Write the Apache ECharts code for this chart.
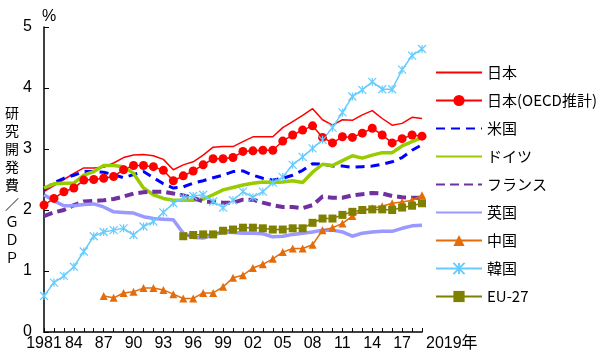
<!DOCTYPE html>
<html>
<head>
<meta charset="utf-8">
<script src="https://cdn.jsdelivr.net/npm/echarts@6/dist/echarts.min.js"></script>
<style>html,body{margin:0;padding:0;background:#fff}#c{width:600px;height:359px}</style>
</head>
<body>
<div id="c"></div>
<script>
var years = ['1981','1982','1983','1984','1985','1986','1987','1988','1989','1990','1991','1992','1993','1994','1995','1996','1997','1998','1999','2000','2001','2002','2003','2004','2005','2006','2007','2008','2009','2010','2011','2012','2013','2014','2015','2016','2017','2018','2019'];
var yTicks = [0, 1, 2, 3, 4, 5];
var seriesNames = ['日本','日本(OECD推計)','米国','ドイツ','フランス','英国','中国','韓国','EU-27'];

var japan = [2.30,2.40,2.50,2.60,2.69,2.69,2.70,2.77,2.86,2.90,2.91,2.89,2.83,2.66,2.74,2.79,2.90,3.03,3.04,3.04,3.12,3.20,3.20,3.20,3.35,3.45,3.55,3.66,3.48,3.39,3.48,3.47,3.56,3.63,3.50,3.39,3.42,3.52,3.50];
var japanOECD = [2.08,2.19,2.30,2.36,2.49,2.50,2.52,2.55,2.66,2.73,2.73,2.71,2.65,2.48,2.56,2.64,2.74,2.84,2.84,2.86,2.96,2.97,2.98,2.98,3.13,3.23,3.31,3.38,3.19,3.10,3.20,3.19,3.26,3.34,3.23,3.10,3.17,3.23,3.21];
var usa = [2.33,2.45,2.52,2.57,2.63,2.63,2.62,2.58,2.53,2.58,2.63,2.53,2.43,2.36,2.38,2.44,2.48,2.53,2.57,2.63,2.64,2.57,2.52,2.49,2.52,2.57,2.65,2.76,2.75,2.72,2.72,2.70,2.71,2.72,2.75,2.79,2.86,2.98,3.07];
var germany = [2.36,2.43,2.44,2.44,2.57,2.63,2.73,2.73,2.71,2.60,2.36,2.25,2.19,2.16,2.16,2.16,2.18,2.25,2.33,2.37,2.41,2.44,2.46,2.45,2.46,2.48,2.45,2.62,2.75,2.73,2.81,2.89,2.85,2.90,2.94,2.94,3.05,3.12,3.19];
var france = [1.90,1.96,2.00,2.08,2.14,2.15,2.16,2.18,2.22,2.27,2.29,2.30,2.30,2.27,2.24,2.20,2.14,2.13,2.12,2.12,2.17,2.17,2.12,2.08,2.05,2.05,2.03,2.08,2.22,2.20,2.20,2.24,2.26,2.28,2.27,2.23,2.21,2.20,2.20];
var uk = [2.25,2.15,2.07,2.07,2.09,2.10,2.05,1.97,1.96,1.95,1.89,1.86,1.85,1.84,1.62,1.55,1.54,1.59,1.64,1.63,1.62,1.62,1.61,1.56,1.57,1.60,1.62,1.64,1.67,1.67,1.64,1.57,1.62,1.64,1.65,1.65,1.70,1.74,1.75];
var china = [null,null,null,null,null,null,0.59,0.56,0.64,0.66,0.72,0.72,0.69,0.62,0.55,0.55,0.64,0.64,0.74,0.89,0.93,1.05,1.11,1.20,1.31,1.37,1.37,1.43,1.67,1.71,1.78,1.90,2.00,2.03,2.06,2.11,2.13,2.16,2.24];
var korea = [0.59,0.81,0.92,1.07,1.32,1.57,1.64,1.67,1.70,1.59,1.73,1.81,1.96,2.11,2.20,2.23,2.25,2.14,2.04,2.16,2.30,2.21,2.30,2.45,2.54,2.74,2.87,3.01,3.15,3.35,3.60,3.86,3.97,4.10,3.98,3.98,4.30,4.53,4.64];
var eu27 = [null,null,null,null,null,null,null,null,null,null,null,null,null,null,1.57,1.59,1.60,1.60,1.66,1.68,1.71,1.71,1.70,1.68,1.68,1.70,1.70,1.79,1.86,1.86,1.92,1.97,2.00,2.01,2.01,2.00,2.04,2.07,2.11];

var numFont = '"Liberation Sans Narrow", "Liberation Sans", "Noto Sans CJK JP", sans-serif';
var jpFont = '"Noto Sans CJK JP", "Liberation Sans", sans-serif';
var starPath = 'path://M0,0L10,10M10,0L0,10M5,0L5,10';

function mk(name, data, color, opt) {
  return {
    name: name, type: 'line', data: data, connectNulls: false,
    symbol: opt.symbol || 'none', symbolSize: opt.size || 8,
    showSymbol: !!opt.symbol, showAllSymbol: true,
    lineStyle: { color: color, width: opt.width || 1.5, type: opt.type || 'solid' },
    itemStyle: { color: color, borderColor: color, borderWidth: opt.bw || 0 },
    emphasis: { disabled: true }, animation: false
  };
}

var hasSymbol = [false, true, false, false, false, false, true, true, true];
var legendData = seriesNames.map(function (n, i) {
  return hasSymbol[i] ? { name: n } : { name: n, itemStyle: { opacity: 0 } };
});

var chart = echarts.init(document.getElementById('c'), null, { renderer: 'canvas' });
chart.setOption({
  animation: false,
  backgroundColor: '#ffffff',
  grid: { left: 44, right: 178, top: 27, bottom: 27, containLabel: false },
  legend: {
    orient: 'vertical', left: 435, top: 65, padding: 0,
    itemWidth: 46, itemHeight: 14, itemGap: 13,
    data: legendData,
    textStyle: { fontSize: 15, color: '#000', fontFamily: jpFont, lineHeight: 14, padding: 0 },
    selectedMode: false
  },
  xAxis: {
    type: 'category', data: years, boundaryGap: false,
    name: '2019年', nameLocation: 'end', nameGap: 4,
    nameTextStyle: { fontSize: 16, color: '#000', fontFamily: numFont, verticalAlign: 'top', padding: [4, 0, 0, 0] },
    axisLine: { lineStyle: { color: '#000', width: 1.5 } },
    axisTick: { inside: true, length: 4, interval: 0, lineStyle: { color: '#000' } },
    axisLabel: {
      interval: function (i) { return i % 3 === 0 && i <= 36; },
      formatter: function (v, i) { return i === 0 ? v : v.slice(2); },
      fontSize: 16, color: '#000', fontFamily: numFont, margin: 4
    },
    splitLine: { show: false }
  },
  yAxis: {
    type: 'value', min: yTicks[0], max: yTicks[yTicks.length - 1], interval: 1,
    axisLine: { show: true, lineStyle: { color: '#000', width: 1.5 } },
    axisTick: { show: true, inside: true, length: 5, lineStyle: { color: '#000' } },
    axisLabel: { fontSize: 16, color: '#000', fontFamily: numFont, margin: 12 },
    splitLine: { show: false }
  },
  graphic: [
    { type: 'text', left: 42, top: 9, style: { text: '%', font: '16px ' + numFont, fill: '#000' } },
    { type: 'text', x: 12, y: 185, style: { text: '研\n究\n開\n発\n費\n／\nＧ\nＤ\nＰ', font: '14px ' + jpFont, fill: '#000', align: 'center', verticalAlign: 'middle', lineHeight: 18.2 } }
  ],
  series: [
    mk(seriesNames[0], japan, '#ff0000', { width: 1.5 }),
    mk(seriesNames[1], japanOECD, '#ff0000', { width: 1.5, symbol: 'circle', size: 9 }),
    mk(seriesNames[2], usa, '#0000ff', { width: 3, type: [9, 6] }),
    mk(seriesNames[3], germany, '#99cc00', { width: 3.5 }),
    mk(seriesNames[4], france, '#7030a0', { width: 4, type: [9, 5] }),
    mk(seriesNames[5], uk, '#9999ff', { width: 3.5 }),
    mk(seriesNames[6], china, '#e46c0a', { width: 1.5, symbol: 'triangle', size: 8 }),
    mk(seriesNames[7], korea, '#66ccff', { width: 1.5, symbol: starPath, size: 8, bw: 1.2 }),
    mk(seriesNames[8], eu27, '#808000', { width: 1.5, symbol: 'rect', size: 8 })
  ]
});
</script>
</body>
</html>
